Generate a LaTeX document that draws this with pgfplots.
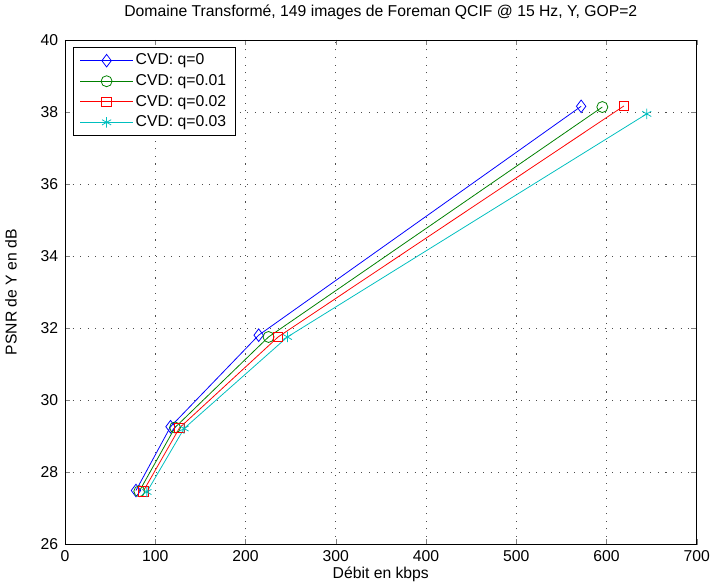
\documentclass[border=0pt]{standalone}
\usepackage{pgfplots}
\pgfplotsset{compat=1.18}
\usepackage{fontspec}
\setmainfont{Liberation Sans}

\definecolor{mblue}{rgb}{0,0,1}
\definecolor{mgreen}{rgb}{0,0.5,0}
\definecolor{mred}{rgb}{1,0,0}
\definecolor{mcyan}{rgb}{0,0.75,0.75}

\begin{document}
\fontsize{12}{14}\selectfont
\begin{tikzpicture}
\begin{axis}[
    width=482pt, height=385pt,
    scale only axis,
    xmin=0, xmax=700,
    ymin=26, ymax=40,
    xtick={0,100,...,700},
    ytick={26,28,...,40},
    tick align=inside,
    major tick length=4pt,
    /pgf/number format/assume math mode=true,
    xmajorgrids=true, ymajorgrids=true,
    grid style={dash pattern=on 0.8pt off 5pt, black!70},
    axis line style={line width=0.6pt},
    title={Domaine Transformé, 149 images de Foreman QCIF @ 15 Hz, Y, GOP=2},
    title style={yshift=5pt},
    xlabel={Débit en kbps},
    ylabel={PSNR de Y en dB},
    xlabel style={yshift=4pt},
    ylabel style={yshift=10pt},
    yticklabel style={xshift=-1pt},
    legend cell align={left},
    legend style={at={(0.013,0.986)}, anchor=north west, draw=black, line width=0.6pt,
        row sep=1.5pt, inner xsep=5pt, inner ysep=3pt},
    legend image code/.code={
        \draw[mark repeat=2,mark phase=2] plot coordinates {(0cm,0cm) (0.7cm,0cm) (1.4cm,0cm)};
    },
]

\addplot[color=mblue, line width=0.6pt, mark=diamond, mark size=4.8pt, mark options={solid, line width=0.6pt}]
    coordinates {
(78.7,27.50)
(117.0,29.27)
(214.7,31.81)
(572.0,38.16)
    };
\addlegendentry{CVD: q=0}

\addplot[color=mgreen, line width=0.6pt, mark=o, mark size=4.2pt, mark options={solid, line width=0.6pt}]
    coordinates {
(82.4,27.48)
(122.0,29.25)
(225.6,31.76)
(595.5,38.14)
    };
\addlegendentry{CVD: q=0.01}

\addplot[color=mred, line width=0.6pt, mark=square, mark size=3.6pt, mark options={solid, line width=0.6pt}]
    coordinates {
(86.8,27.48)
(127.0,29.24)
(236.2,31.76)
(619.4,38.17)
    };
\addlegendentry{CVD: q=0.02}

\addplot[color=mcyan, line width=0.6pt, mark=asterisk, mark size=4pt, mark options={solid, line width=0.6pt}]
    coordinates {
(90.8,27.46)
(132.0,29.22)
(246.5,31.76)
(644.7,37.95)
    };
\addlegendentry{CVD: q=0.03}

\end{axis}
\end{tikzpicture}
\end{document}
